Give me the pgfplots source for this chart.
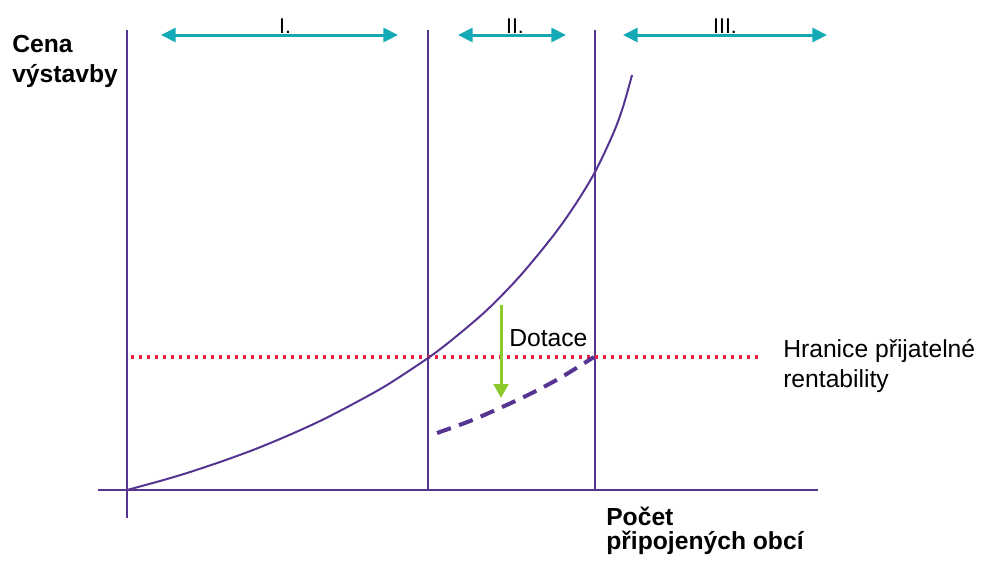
\documentclass[border=0pt]{standalone}
\usepackage{pgfplots}
\pgfplotsset{compat=1.18}
\usepackage{fontspec}
\setmainfont{Liberation Sans}
\usetikzlibrary{arrows.meta}
\definecolor{vio}{RGB}{86,52,145}
\definecolor{tealc}{RGB}{19,169,181}
\definecolor{redc}{RGB}{237,28,64}
\definecolor{greenc}{RGB}{141,200,45}
\begin{document}
\begin{tikzpicture}
\begin{axis}[
  hide axis, scale only axis,
  width=736.5pt, height=421.5pt,
  xmin=0, xmax=982, ymin=0, ymax=562,
  y dir=reverse, clip=false,
]
% axes and section lines
\addplot[vio, line width=1.5pt] coordinates {(98,490) (818,490)};
\addplot[vio, line width=1.5pt] coordinates {(127,30) (127,518)};
\addplot[vio, line width=1.5pt] coordinates {(428,30) (428,490)};
\addplot[vio, line width=1.5pt] coordinates {(595,30) (595,490)};
% threshold
\addplot[redc, line width=2.6pt, dash pattern=on 2.3pt off 3.7pt] coordinates {(131,357) (760,357)};
% cost curve
\addplot[vio, line width=1.5pt, smooth] coordinates {
(127,490) (160,481) (187,473) (220,462) (253,450) (287,436) (320,421) (353,404)
(387,385) (428,358) (453,339) (487,310) (520,276) (553,236) (575,205) (595,172)
(613,134) (623,107) (632,75)};
% subsidised curve
\addplot[vio, line width=3pt, dash pattern=on 11pt off 6.5pt, smooth] coordinates {
(437,433) (470,421) (500,408) (530,394) (560,378) (594,357)};
% subsidy arrow
\addplot[greenc, line width=2.25pt, -{Triangle[length=10.5pt,width=11pt]}] coordinates {(501,305) (501,398)};
% section arrows
\addplot[tealc, line width=2.25pt, {Triangle[length=11pt,width=10.5pt]}-{Triangle[length=11pt,width=10.5pt]}] coordinates {(161,35) (398,35)};
\addplot[tealc, line width=2.25pt, {Triangle[length=11pt,width=10.5pt]}-{Triangle[length=11pt,width=10.5pt]}] coordinates {(458,35) (566,35)};
\addplot[tealc, line width=2.25pt, {Triangle[length=11pt,width=10.5pt]}-{Triangle[length=11pt,width=10.5pt]}] coordinates {(623,35) (827,35)};
% labels
\node[anchor=base, inner sep=0pt, font=\fontsize{16}{19}\selectfont] at (axis cs:285,33) {I.};
\node[anchor=base, inner sep=0pt, font=\fontsize{16}{19}\selectfont] at (axis cs:515,33) {II.};
\node[anchor=base, inner sep=0pt, font=\fontsize{16}{19}\selectfont] at (axis cs:725,33) {III.};
\node[anchor=base west, inner sep=0pt, font=\fontsize{18.5}{22}\selectfont\bfseries] at (axis cs:12,52) {Cena};
\node[anchor=base west, inner sep=0pt, font=\fontsize{18.5}{22}\selectfont\bfseries] at (axis cs:12,82) {výstavby};
\node[anchor=base west, inner sep=0pt, font=\fontsize{18.5}{22}\selectfont] at (axis cs:509,346) {Dotace};
\node[anchor=base west, inner sep=0pt, font=\fontsize{18.5}{22}\selectfont] at (axis cs:783,357) {Hranice přijatelné};
\node[anchor=base west, inner sep=0pt, font=\fontsize{18.5}{22}\selectfont] at (axis cs:783,387) {rentability};
\node[anchor=base west, inner sep=0pt, font=\fontsize{18.5}{22}\selectfont\bfseries] at (axis cs:606,525) {Počet};
\node[anchor=base west, inner sep=0pt, font=\fontsize{18.5}{22}\selectfont\bfseries] at (axis cs:606,549) {připojených obcí};
\end{axis}
\pgfresetboundingbox
\path[use as bounding box] (0,0) rectangle (736.5pt,421.5pt);
\end{tikzpicture}
\end{document}
